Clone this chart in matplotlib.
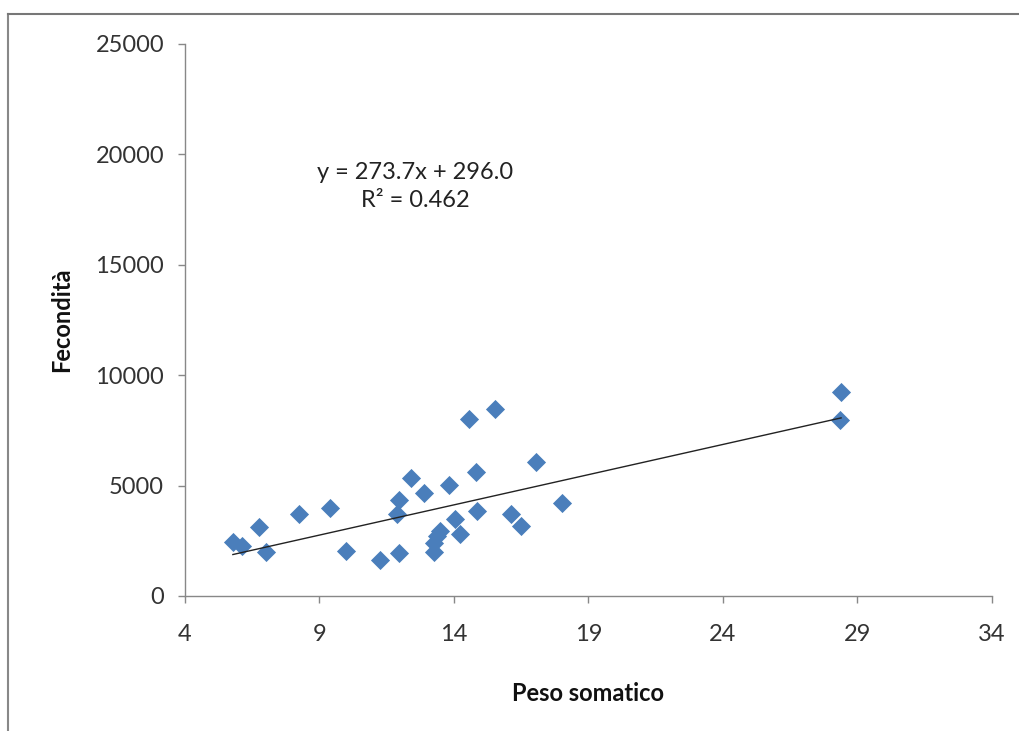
import matplotlib
matplotlib.use("Agg")
import matplotlib.pyplot as plt
from matplotlib.lines import Line2D
import numpy as np

plt.rcParams['font.family'] = ['Lato', 'DejaVu Sans']

peso = [5.78, 6.12, 6.75, 7.0, 8.24, 9.39, 10.0, 11.25, 11.97, 11.87, 11.94, 12.41,
        12.9, 13.24, 13.24, 13.49, 13.37, 13.83, 14.03, 14.24, 14.55, 14.8, 14.84,
        15.51, 16.13, 16.5, 17.04, 18.03, 28.39, 28.35]
fecondita = [2455, 2254, 3123, 2012, 3736, 3964, 2058, 1646, 1952, 3704, 4358, 5350,
             4650, 1981, 2410, 2940, 2712, 5044, 3475, 2820, 8002, 5638, 3827,
             8459, 3704, 3169, 6068, 4193, 9223, 7970]
slope = 273.7
intercept = 296.0
r2 = 0.462
x_ticks = [4, 9, 14, 19, 24, 29, 34]
y_ticks = [0, 5000, 10000, 15000, 20000, 25000]

fig = plt.figure(figsize=(10.2, 7.31), dpi=100)
ax = fig.add_axes([185/1020, 1-596/731, (992-185)/1020, (596-44)/731])

ax.scatter(peso, fecondita, marker='D', s=95, color='#4A7EBB', zorder=3, linewidths=0)
xl = np.array([min(peso), max(peso)])
ax.plot(xl, slope*xl + intercept, color='#222222', lw=1.0, zorder=4)

ax.set_xlim(x_ticks[0], x_ticks[-1])
ax.set_ylim(y_ticks[0], y_ticks[-1])
ax.set_xticks(x_ticks)
ax.set_yticks(y_ticks)
ax.tick_params(axis='both', colors='#888888', labelcolor='#333333', labelsize=17,
               length=5, width=1, direction='out')
ax.tick_params(axis='x', pad=15)
ax.tick_params(axis='y', pad=10)
for s in ['top', 'right']:
    ax.spines[s].set_visible(False)
for s in ['left', 'bottom']:
    ax.spines[s].set_color('#888888')
    ax.spines[s].set_linewidth(1)

ax.set_xlabel('Peso somatico', fontsize=17, fontweight='bold', labelpad=27, color='#111111')
ax.set_ylabel('Fecondità', fontsize=17, fontweight='bold', labelpad=16, color='#111111')

ax.text(0.285, 0.742, f"y = {slope:.1f}x + {intercept:.1f}\nR² = {r2:.3f}",
        transform=ax.transAxes, ha='center', va='center', fontsize=17,
        linespacing=1.45, color='#222222')

fig.add_artist(Line2D([8/1020, 8/1020], [0, 1-14/731], transform=fig.transFigure,
                      color='#888888', lw=1.5))
fig.add_artist(Line2D([8/1020, 1], [1-14/731, 1-14/731], transform=fig.transFigure,
                      color='#777777', lw=1.5))

fig.savefig('out.png', dpi=100)
